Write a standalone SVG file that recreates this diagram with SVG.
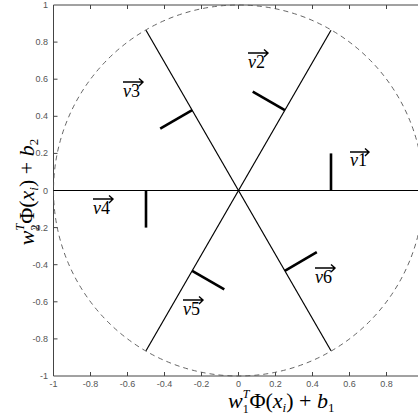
<svg xmlns="http://www.w3.org/2000/svg" width="418" height="417" viewBox="0 0 418 417">
<style>
.tick{font-family:"Liberation Sans",Arial,sans-serif;font-size:9px;fill:#555}
.ax{stroke:#444;stroke-width:1;fill:none}
.ln{stroke:#000;stroke-width:1.2;fill:none}
.nm{stroke:#000;stroke-width:2.6;fill:none;stroke-linecap:butt}
.lab{font-family:"Liberation Serif","Times New Roman",serif;font-size:18px;fill:#000}
.arr{stroke:#000;stroke-width:1.4;fill:none}
.math{font-family:"Liberation Serif","Times New Roman",serif;font-size:22px;fill:#000}
</style>
<rect width="418" height="417" fill="#fff"/>
<g id="axes">
<path class="ax" d="M53.5,5 V376 H418 M53.5,5 H418"/>
<path class="ax" d="M90.5,376v-4M127.5,376v-4M164.5,376v-4M201.5,376v-4M238.5,376v-4M275.5,376v-4M312.5,376v-4M349.5,376v-4M386.5,376v-4
M90.5,5v4M127.5,5v4M164.5,5v4M201.5,5v4M238.5,5v4M275.5,5v4M312.5,5v4M349.5,5v4M386.5,5v4
M53.5,42.1h4M53.5,79.2h4M53.5,116.3h4M53.5,153.4h4M53.5,190.5h4M53.5,227.6h4M53.5,264.7h4M53.5,301.8h4M53.5,338.9h4"/>
<g class="tick" text-anchor="end">
<text x="48" y="8">1</text><text x="48" y="45">0.8</text><text x="48" y="82">0.6</text><text x="48" y="119">0.4</text><text x="48" y="156">0.2</text><text x="48" y="193.5">0</text><text x="48" y="230.5">-0.2</text><text x="48" y="267.5">-0.4</text><text x="48" y="305">-0.6</text><text x="48" y="342">-0.8</text><text x="48" y="379">-1</text>
</g>
<g class="tick" text-anchor="middle">
<text x="53.5" y="387">-1</text><text x="90.5" y="387">-0.8</text><text x="127.5" y="387">-0.6</text><text x="164.5" y="387">-0.4</text><text x="201.5" y="387">-0.2</text><text x="238.5" y="387">0</text><text x="275.5" y="387">0.2</text><text x="312.5" y="387">0.4</text><text x="349.5" y="387">0.6</text><text x="386.5" y="387">0.8</text>
</g>
<text class="math" x="228" y="408"><tspan font-style="italic">w</tspan><tspan font-size="12" dy="5">1</tspan><tspan font-size="12" font-style="italic" dx="-6" dy="-15">T</tspan><tspan dy="10">Φ(</tspan><tspan font-style="italic">x</tspan><tspan font-size="13" font-style="italic" dy="4">i</tspan><tspan dy="-4">) + </tspan><tspan font-style="italic">b</tspan><tspan font-size="13" dy="4">1</tspan></text>
<text class="math" text-anchor="middle" transform="translate(34,192) rotate(-90)"><tspan font-style="italic">w</tspan><tspan font-size="12" dy="5">2</tspan><tspan font-size="12" font-style="italic" dx="-6" dy="-15">T</tspan><tspan dy="10">Φ(</tspan><tspan font-style="italic">x</tspan><tspan font-size="13" font-style="italic" dy="4">i</tspan><tspan dy="-4">) + </tspan><tspan font-style="italic">b</tspan><tspan font-size="13" dy="4">2</tspan></text>
</g>
<g id="circle">
<ellipse cx="238.5" cy="190.5" rx="185" ry="185.5" fill="none" stroke="#555" stroke-width="0.9" stroke-dasharray="5,4"/>
</g>
<g id="connectors">
<path class="ln" d="M53.5,190.5 H418"/>
<path class="ln" d="M146,350.8 L331,30.2"/>
<path class="ln" d="M146,30.2 L331,350.8"/>
</g>
<g id="v1"><path class="nm" d="M331,190.5 V153.4"/><path class="arr" d="M350,152H369M365,148.5L369,152L365,156"/><text class="lab" x="350" y="166"><tspan font-style="italic">v</tspan>1</text></g>
<g id="v2"><path class="nm" d="M284.8,110.2 L252.7,91.6"/><path class="arr" d="M248,53H268M264,49.5L268,53L264,57"/><text class="lab" x="248" y="68"><tspan font-style="italic">v</tspan>2</text></g>
<g id="v3"><path class="nm" d="M192.2,110.2 L160.2,128.7"/><path class="arr" d="M123,82H143M139,78.5L143,82L139,86"/><text class="lab" x="123" y="97"><tspan font-style="italic">v</tspan>3</text></g>
<g id="v4"><path class="nm" d="M146,190.5 V227.6"/><path class="arr" d="M93,199H113M109,195.5L113,199L109,203"/><text class="lab" x="93" y="214"><tspan font-style="italic">v</tspan>4</text></g>
<g id="v5"><path class="nm" d="M192.2,270.8 L224.3,289.4"/><path class="arr" d="M183,300H203M199,296.5L203,300L199,304"/><text class="lab" x="183" y="315"><tspan font-style="italic">v</tspan>5</text></g>
<g id="v6"><path class="nm" d="M284.8,270.8 L316.8,252.2"/><path class="arr" d="M315,268H335M331,264.5L335,268L331,272"/><text class="lab" x="315" y="283"><tspan font-style="italic">v</tspan>6</text></g>
</svg>
